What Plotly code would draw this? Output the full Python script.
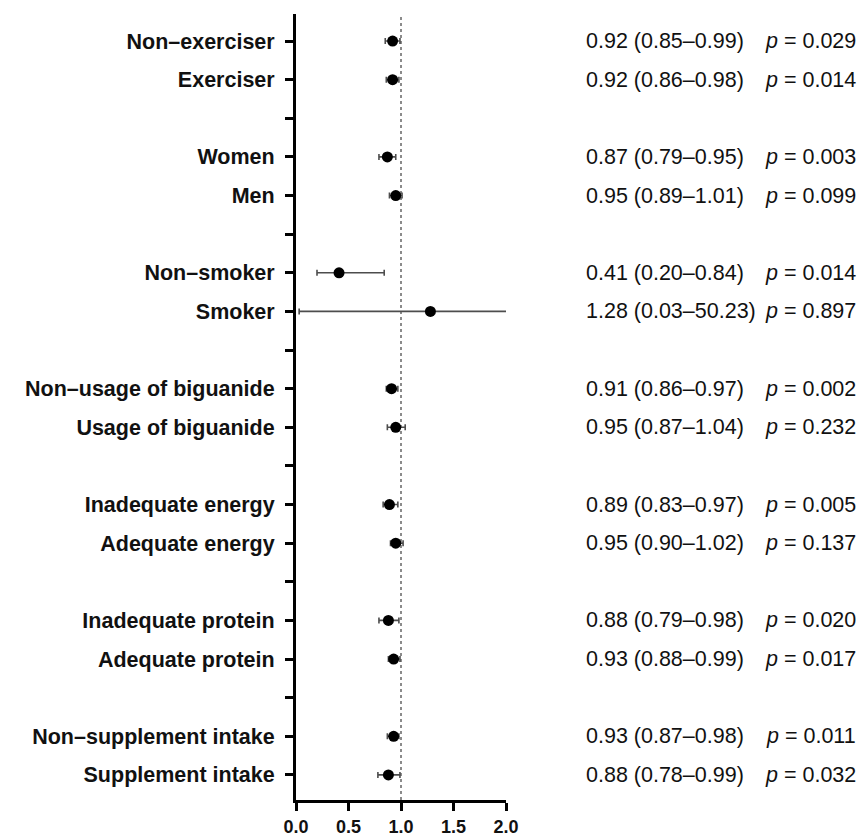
import plotly.graph_objects as go

labels = ["Non–exerciser", "Exerciser", "", "Women", "Men", "",
          "Non–smoker", "Smoker", "", "Non–usage of biguanide", "Usage of biguanide", "",
          "Inadequate energy", "Adequate energy", "", "Inadequate protein", "Adequate protein", "",
          "Non–supplement intake", "Supplement intake"]
hr = [0.92, 0.92, None, 0.87, 0.95, None, 0.41, 1.28, None, 0.91, 0.95, None,
      0.89, 0.95, None, 0.88, 0.93, None, 0.93, 0.88]
lo = [0.85, 0.86, None, 0.79, 0.89, None, 0.20, 0.03, None, 0.86, 0.87, None,
      0.83, 0.90, None, 0.79, 0.88, None, 0.87, 0.78]
hi = [0.99, 0.98, None, 0.95, 1.01, None, 0.84, 50.23, None, 0.97, 1.04, None,
      0.97, 1.02, None, 0.98, 0.99, None, 0.98, 0.99]
pvals = ["0.029", "0.014", None, "0.003", "0.099", None, "0.014", "0.897", None,
         "0.002", "0.232", None, "0.005", "0.137", None, "0.020", "0.017", None,
         "0.011", "0.032"]
xticks = [0.0, 0.5, 1.0, 1.5, 2.0]

ypos = list(range(len(labels)))
idx = [i for i, v in enumerate(hr) if v is not None]

fig = go.Figure()
fig.add_trace(go.Scatter(
    x=[hr[i] for i in idx], y=[ypos[i] for i in idx], mode="markers",
    marker=dict(color="black", size=11),
    error_x=dict(type="data", symmetric=False,
                 array=[hi[i] - hr[i] for i in idx],
                 arrayminus=[hr[i] - lo[i] for i in idx],
                 color="#4d4d4d", thickness=1.6, width=3),
    showlegend=False, cliponaxis=True))

fig.add_shape(type="line", x0=1, x1=1, xref="x", y0=0, y1=1, yref="paper",
              line=dict(color="#666666", width=1.5, dash="dot"), layer="below")

font_reg = dict(family="Arial, Liberation Sans, sans-serif", size=21.5, color="#111111")
for i in idx:
    fig.add_annotation(x=1.3714, y=ypos[i], xref="paper", yref="y", xanchor="left",
                       text=f"{hr[i]:.2f} ({lo[i]:.2f}–{hi[i]:.2f})", showarrow=False,
                       font=font_reg)
    fig.add_annotation(x=2.676, y=ypos[i], xref="paper", yref="y", xanchor="right",
                       text=f"<i>p</i> = {pvals[i]}", showarrow=False, font=font_reg)

fig.update_xaxes(range=[0, 2], tickvals=xticks, ticktext=[f"{v:.1f}" for v in xticks],
                 showline=True, linewidth=3, linecolor="black", ticks="outside",
                 ticklen=8, tickwidth=2.5, tickcolor="black", showgrid=False, zeroline=False,
                 tickfont=dict(family="Arial, Liberation Sans, sans-serif", size=18,
                               color="#111111", weight="bold"))
fig.update_yaxes(range=[19.65, -0.7], tickvals=ypos, ticktext=labels,
                 showline=True, linewidth=3, linecolor="black", ticks="outside",
                 ticklen=8, tickwidth=2.5, tickcolor="black", showgrid=False, zeroline=False,
                 ticklabelstandoff=6,
                 tickfont=dict(family="Arial, Liberation Sans, sans-serif", size=21.5,
                               color="#111111", weight="bold"))
fig.update_layout(width=865, height=835, plot_bgcolor="white", paper_bgcolor="white",
                  margin=dict(l=288, r=367, t=6, b=43))
fig.write_html("out.html")
